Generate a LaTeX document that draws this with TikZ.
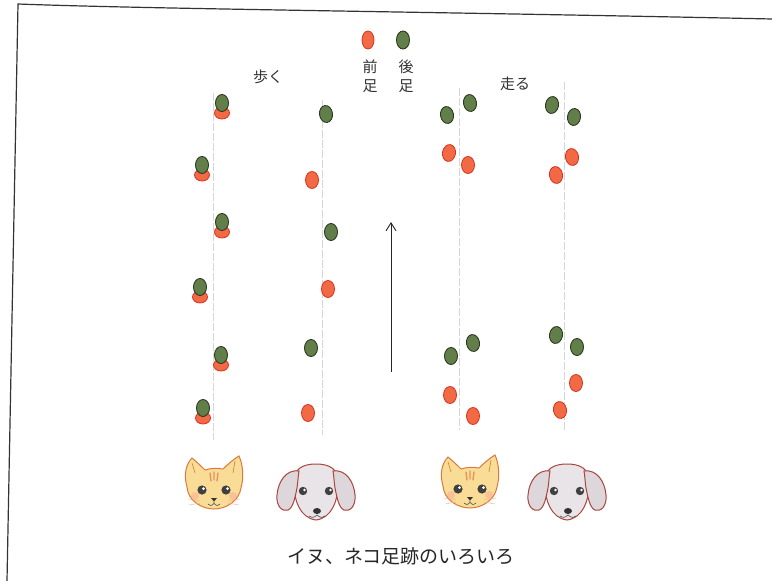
\documentclass[tikz,border=0pt]{standalone}
\usepackage{fontspec}
\newfontfamily\jp{Noto Sans CJK JP}
\usetikzlibrary{arrows.meta}
\definecolor{hindgreen}{HTML}{627F4A}
\definecolor{hindedge}{HTML}{2C3A22}
\definecolor{forered}{HTML}{F26A45}
\definecolor{foreedge}{HTML}{D9301E}
\definecolor{catfill}{HTML}{F9DC95}
\definecolor{catline}{HTML}{DC7A3C}
\definecolor{dogfill}{HTML}{E9E4E8}
\definecolor{dogear}{HTML}{DDD6DB}
\definecolor{dogline}{HTML}{A9453D}
\newcommand\hindpaw[3][0]{\path[hind,rotate around={#1:(#2,#3)}] (#2,#3) ellipse [x radius=6.5pt,y radius=8.5pt];}
\newcommand\forepaw[3][0]{\path[fore,rotate around={#1:(#2,#3)}] (#2,#3) ellipse [x radius=6.5pt,y radius=8.5pt];}
% cat walk: hind paw placed over the fore paw print
\newcommand\pairpaw[2]{\path[fore] (#1,#2+10) ellipse [x radius=7.5pt,y radius=6pt];
  \path[hind] (#1,#2) ellipse [x radius=6.5pt,y radius=8.5pt];}
\newcommand\catface[2]{%
\begin{scope}[shift={(#1,#2)}]
  \path[fill=catfill,draw=catline,line width=1pt]
    (-27,2) .. controls (-31,-12) and (-27,-22) .. (-22,-27)
    .. controls (-16,-22) and (-12,-18) .. (-9,-15)
    .. controls (-3,-17) and (3,-17) .. (9,-16)
    .. controls (14,-21) and (20,-26) .. (25,-29)
    .. controls (29,-20) and (30,-8) .. (27,3)
    .. controls (25,16) and (12,24) .. (0,24)
    .. controls (-12,24) and (-26,16) .. (-27,2) -- cycle;
  \draw[catline,line width=0.6pt] (-22,-22) -- (-19,-12) (21,-24) -- (19,-12);
  \draw[catline!80,line width=1.4pt,line cap=round] (-4,-12) -- (-3,-4) (0,-13) -- (0,-5) (4,-12) -- (3,-4);
  \fill[red!40,opacity=0.4] (-19,11) circle (4pt) (19,11) circle (4pt);
  \fill[black!75] (-12,5) circle (4.6pt) (12,5) circle (4.6pt);
  \fill[white] (-10.5,3.5) circle (1.5pt) (13.5,3.5) circle (1.5pt);
  \fill[black!80] (-3,13) -- (3,13) -- (0,16.5) -- cycle;
  \draw[black!70,line width=0.6pt] (0,16.5) -- (0,18.5)
    (-6,19) .. controls (-3,21) .. (0,18.5) .. controls (3,21) .. (6,19);
  \draw[catline!60,line width=0.4pt] (-14,16) -- (-26,14) (-14,18) -- (-25,20)
    (14,16) -- (26,14) (14,18) -- (25,20);
\end{scope}}
\newcommand\dogface[2]{%
\begin{scope}[shift={(#1,#2)}]
  \path[fill=dogfill,draw=dogline,line width=1pt]
    (-22,-5) .. controls (-24,-22) and (-12,-26) .. (0,-26)
    .. controls (12,-26) and (24,-22) .. (22,-5)
    .. controls (22,10) and (16,28) .. (0,30)
    .. controls (-16,28) and (-22,10) .. (-22,-5) -- cycle;
  \path[fill=dogear,draw=dogline,line width=1pt]
    (-17,-19) .. controls (-30,-21) and (-38,-8) .. (-39,5)
    .. controls (-40,16) and (-34,22) .. (-28,20)
    .. controls (-23,18) and (-21,8) .. (-19,-2)
    .. controls (-18,-8) and (-18,-14) .. (-17,-19) -- cycle;
  \path[fill=dogear,draw=dogline,line width=1pt]
    (17,-19) .. controls (30,-21) and (38,-8) .. (39,5)
    .. controls (40,16) and (34,22) .. (28,20)
    .. controls (23,18) and (21,8) .. (19,-2)
    .. controls (18,-8) and (18,-14) .. (17,-19) -- cycle;
  \fill[black!75] (-13,1) circle (4.2pt) (13,1) circle (4.2pt);
  \fill[white] (-11.5,0) circle (1.4pt) (14.5,0) circle (1.4pt);
  \fill[black!80] (1,21) ellipse [x radius=4pt,y radius=3pt];
  \draw[black!70,line width=0.6pt] (-7,26) .. controls (-3,28) .. (1,25) .. controls (5,28) .. (9,26);
\end{scope}}
\begin{document}
\begin{tikzpicture}[x=1pt,y=-1pt,
  track/.style={draw=black!16,line width=0.7pt,dash pattern=on 8pt off 2pt},
  hind/.style={fill=hindgreen,draw=hindedge,line width=0.9pt},
  fore/.style={fill=forered,draw=foreedge,line width=0.8pt},
  lbl/.style={font=\jp\fontsize{15}{19}\selectfont,text=black!80,align=center,inner sep=0pt},
  frame/.style={draw=black!80,line width=1.2pt},
  arrowline/.style={draw=black!85,line width=0.9pt,-{Straight Barb[length=8pt,width=10pt]}}]
\useasboundingbox[fill=white] (0,0) rectangle (772,581);

% page frame
\draw[frame] (7,581) -- (18,4) .. controls (150,9) and (450,12) .. (772,19);

% legend
\path[fore] (368,40) ellipse [x radius=6pt,y radius=9pt];
\path[hind] (403,40) ellipse [x radius=6.5pt,y radius=9pt];
\node[lbl] (fore) at (370,76) {前\\足};
\node[lbl] (hind) at (406,76) {後\\足};
\node[lbl] (walk) at (268,77) {歩く};
\node[lbl] (run) at (515,84) {走る};

% direction of travel
\coordinate (tail) at (391,372);
\coordinate (head) at (391,222);
\draw[arrowline] (tail) -- (head);

% track centre lines
\draw[track] (213,93) -- (213,440);
\draw[track] (322,100) -- (322,435);
\draw[track] (459,88) -- (459,430);
\draw[track] (564,82) -- (564,430);

% cat, walking
\pairpaw{222}{103}
\pairpaw{202}{165}
\pairpaw{222}{222}
\pairpaw{200}{287}
\pairpaw{221}{355}
\pairpaw{203}{408}

% dog, walking
\hindpaw[8]{326}{114}
\forepaw{312}{180}
\hindpaw{331}{232}
\forepaw{328}{289}
\hindpaw{311}{348}
\forepaw{308}{413}

% cat, running
\hindpaw[10]{447}{115}
\hindpaw[10]{470}{103}
\forepaw[-10]{449}{153}
\forepaw{468}{165}
\hindpaw{451}{356}
\hindpaw[10]{473}{343}
\forepaw{450}{395}
\forepaw{473}{416}

% dog, running
\hindpaw[-10]{552}{105}
\hindpaw[-8]{574}{117}
\forepaw[10]{572}{157}
\forepaw[10]{556}{175}
\hindpaw[-10]{556}{335}
\hindpaw{577}{347}
\forepaw{576}{383}
\forepaw[10]{560}{410}

% faces
\catface{214}{485}
\dogface{316}{490}
\catface{470}{484}
\dogface{567}{490}

% caption
\node[font=\jp\fontsize{19}{22}\selectfont,text=black!85,inner sep=0pt] (caption) at (401,556) {イヌ、ネコ足跡のいろいろ};
\end{tikzpicture}
\end{document}
